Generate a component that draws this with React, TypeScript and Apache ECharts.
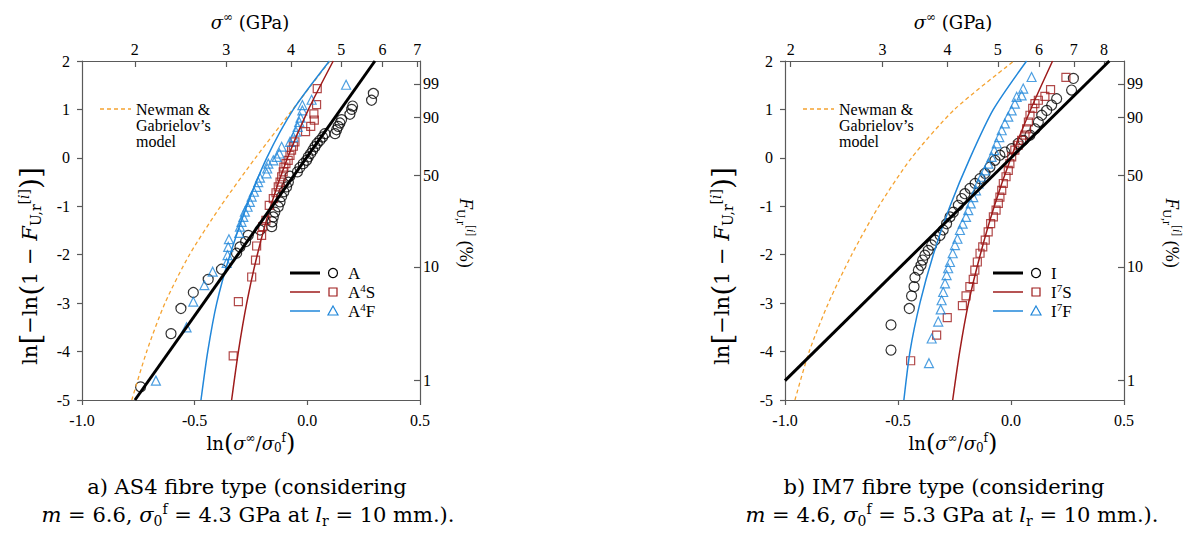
import React, { useEffect, useRef } from 'react';
import * as echarts from 'echarts';

// ---------- data ----------
const xTicks = [-1.0, -0.5, 0.0, 0.5];
const sigma0A = 4.3;
const sigma0I = 5.3;
const topTicksA = [2, 3, 4, 5, 6, 7];
const topTicksI = [2, 3, 4, 5, 6, 7, 8];
const rightTicksF = [1, 10, 50, 90, 99];

// AS4 (left)
const fitA = [[-0.765, -5], [0.30, 2]];
const fitA4S = [[-0.336, -5], [-0.306, -4], [-0.269, -3], [-0.222, -2], [-0.163, -1], [-0.088, 0], [0.005, 1], [0.115, 2]];
const fitA4F = [[-0.472, -5], [-0.442, -4], [-0.402, -3], [-0.343, -2], [-0.269, -1], [-0.180, 0], [-0.062, 1], [0.098, 2]];
const newmanA = [[-0.779, -5], [-0.713, -4], [-0.632, -3], [-0.523, -2], [-0.385, -1], [-0.230, 0], [-0.065, 1], [0.100, 2]];
const ptsA = [[-0.740, -4.73], [-0.605, -3.63], [-0.561, -3.11], [-0.506, -2.78], [-0.440, -2.51], [-0.381, -2.30], [-0.314, -1.97], [-0.299, -1.84], [-0.274, -1.73], [-0.262, -1.60], [-0.210, -1.49], [-0.158, -1.42], [-0.156, -1.32], [-0.151, -1.22], [-0.144, -1.12], [-0.129, -1.01], [-0.121, -0.91], [-0.114, -0.80], [-0.104, -0.70], [-0.092, -0.60], [-0.084, -0.50], [-0.077, -0.38], [-0.044, -0.29], [-0.033, -0.20], [-0.018, -0.12], [-0.003, -0.05], [0.004, 0.02], [0.015, 0.09], [0.024, 0.16], [0.034, 0.23], [0.044, 0.30], [0.056, 0.36], [0.068, 0.43], [0.078, 0.50], [0.123, 0.50], [0.130, 0.58], [0.137, 0.65], [0.145, 0.72], [0.152, 0.79], [0.189, 0.90], [0.197, 1.00], [0.201, 1.07], [0.285, 1.19], [0.293, 1.33]];
const ptsA4S = [[-0.329, -4.09], [-0.306, -2.97], [-0.247, -2.46], [-0.230, -2.11], [-0.225, -1.82], [-0.203, -1.60], [-0.198, -1.42], [-0.184, -1.29], [-0.169, -0.98], [-0.151, -0.84], [-0.139, -0.72], [-0.129, -0.60], [-0.121, -0.50], [-0.114, -0.39], [-0.107, -0.29], [-0.104, -0.19], [-0.095, -0.12], [-0.085, -0.05], [-0.077, 0.05], [-0.070, 0.16], [-0.062, 0.24], [-0.055, 0.33], [-0.008, 0.54], [0.015, 0.65], [0.031, 0.78], [0.029, 0.91], [0.041, 1.10], [0.044, 1.43]];
const ptsA4F = [[-0.672, -4.60], [-0.536, -3.50], [-0.506, -2.97], [-0.457, -2.63], [-0.420, -2.35], [-0.358, -2.17], [-0.354, -2.01], [-0.351, -1.84], [-0.348, -1.68], [-0.302, -1.55], [-0.299, -1.42], [-0.292, -1.32], [-0.284, -1.22], [-0.277, -1.11], [-0.265, -1.01], [-0.255, -0.91], [-0.247, -0.80], [-0.237, -0.70], [-0.225, -0.60], [-0.218, -0.50], [-0.210, -0.41], [-0.181, -0.32], [-0.178, -0.22], [-0.173, -0.12], [-0.151, -0.05], [-0.136, 0.02], [-0.124, 0.09], [-0.114, 0.23], [-0.077, 0.33], [-0.062, 0.43], [-0.050, 0.54], [-0.043, 0.64], [-0.036, 0.74], [-0.030, 0.83], [-0.022, 0.98], [-0.022, 1.09], [0.019, 1.20], [0.172, 1.51]];

// IM7 (right)
const fitI = [[-1.0, -4.6], [0.435, 2]];
const fitI7S = [[-0.258, -5], [-0.227, -4], [-0.188, -3], [-0.136, -2], [-0.074, -1], [0.0, 0], [0.087, 1], [0.184, 2]];
const fitI7F = [[-0.474, -5], [-0.447, -4], [-0.403, -3], [-0.344, -2], [-0.270, -1], [-0.181, 0], [-0.078, 1], [0.069, 2]];
const newmanI = [[-0.956, -5], [-0.893, -4], [-0.808, -3], [-0.705, -2], [-0.585, -1], [-0.440, 0], [-0.250, 1], [0.013, 2]];
const ptsI = [[-0.531, -3.97], [-0.531, -3.45], [-0.450, -3.11], [-0.440, -2.85], [-0.429, -2.66], [-0.425, -2.47], [-0.410, -2.32], [-0.398, -2.22], [-0.391, -2.11], [-0.381, -2.01], [-0.366, -1.91], [-0.351, -1.80], [-0.336, -1.70], [-0.314, -1.60], [-0.300, -1.49], [-0.285, -1.36], [-0.270, -1.22], [-0.255, -1.12], [-0.233, -0.98], [-0.218, -0.84], [-0.204, -0.74], [-0.181, -0.63], [-0.159, -0.53], [-0.137, -0.43], [-0.115, -0.32], [-0.093, -0.19], [-0.071, -0.05], [-0.049, 0.055], [-0.027, 0.12], [0.003, 0.19], [0.032, 0.30], [0.054, 0.36], [0.084, 0.47], [0.106, 0.60], [0.121, 0.74], [0.136, 0.88], [0.158, 0.98], [0.180, 1.09], [0.202, 1.22], [0.268, 1.40], [0.276, 1.64]];
const ptsI7S = [[-0.444, -4.19], [-0.329, -3.66], [-0.282, -3.30], [-0.215, -3.05], [-0.199, -2.85], [-0.182, -2.66], [-0.167, -2.51], [-0.160, -2.32], [-0.149, -2.15], [-0.137, -1.97], [-0.125, -1.84], [-0.114, -1.70], [-0.101, -1.53], [-0.090, -1.36], [-0.078, -1.22], [-0.066, -1.08], [-0.056, -0.94], [-0.049, -0.81], [-0.041, -0.67], [-0.034, -0.53], [-0.022, -0.39], [-0.012, -0.26], [-0.005, -0.12], [0.003, 0.02], [0.017, 0.16], [0.032, 0.26], [0.047, 0.36], [0.062, 0.47], [0.069, 0.60], [0.077, 0.74], [0.084, 0.88], [0.096, 1.02], [0.106, 1.12], [0.121, 1.19], [0.150, 1.27], [0.175, 1.41], [0.243, 1.66]];
const ptsI7F = [[-0.363, -4.24], [-0.351, -3.73], [-0.322, -3.38], [-0.311, -3.13], [-0.307, -2.94], [-0.300, -2.77], [-0.292, -2.59], [-0.285, -2.42], [-0.278, -2.28], [-0.270, -2.15], [-0.258, -1.97], [-0.248, -1.80], [-0.237, -1.67], [-0.226, -1.49], [-0.214, -1.36], [-0.199, -1.22], [-0.189, -1.08], [-0.178, -0.94], [-0.167, -0.81], [-0.155, -0.67], [-0.144, -0.53], [-0.130, -0.39], [-0.115, -0.26], [-0.100, -0.12], [-0.086, 0.02], [-0.074, 0.16], [-0.063, 0.30], [-0.052, 0.43], [-0.041, 0.57], [-0.027, 0.71], [-0.012, 0.85], [0.003, 0.98], [0.017, 1.12], [0.025, 1.26], [0.047, 1.29], [0.054, 1.43], [0.091, 1.67]];

// ---------- styles ----------
const FT = "'Liberation Serif', 'Times New Roman', serif";
const FM = "'DejaVu Serif', serif";
const BLACK = '#000000';
const RED = '#9E1B1B';
const BLUE = '#2187DA';
const ORANGE = '#F5A331';
const AXIS = '#5a5a5a';

const rs = (size: number, fam: string) => {
  const s = Math.round(size * 0.66);
  const off = Math.round(size * 0.55);
  return {
    n: { fontFamily: fam, fontSize: size, verticalAlign: 'middle', fill: '#000' },
    i: { fontFamily: fam, fontSize: size, fontStyle: 'italic', verticalAlign: 'middle', fill: '#000' },
    sp: { fontFamily: fam, fontSize: s, padding: [0, 0, off, 0], verticalAlign: 'middle', fill: '#000' },
    spi: { fontFamily: fam, fontSize: s, fontStyle: 'italic', padding: [0, 0, off, 0], verticalAlign: 'middle', fill: '#000' },
    sb: { fontFamily: fam, fontSize: s, padding: [off, 0, 0, 0], verticalAlign: 'middle', fill: '#000' },
    bg: { fontFamily: fam, fontSize: Math.round(size * 1.35), verticalAlign: 'middle', fill: '#000' },
  };
};

const rtext = (x: number, y: number, text: string, size: number, fam: string, rotation = 0, align = 'center') => ({
  type: 'text', x, y, rotation, silent: true,
  style: { text, rich: rs(size, fam), align, verticalAlign: 'middle', fontFamily: fam, fontSize: size, fill: '#000' },
});

function axesFor(gridIndex: number, sigma0: number, topTicks: number[]) {
  const topVals = topTicks.map((s) => Math.log(s / sigma0));
  const rightVals = rightTicksF.map((f) => Math.log(-Math.log(1 - f / 100)));
  const lab = { color: '#000', fontFamily: FT, fontSize: 16 };
  const line = { show: true, lineStyle: { color: AXIS, width: 1.2 } };
  const tick = { lineStyle: { color: AXIS, width: 1.2 } };
  const x = [
    {
      type: 'value', gridIndex, position: 'bottom', min: -1, max: 0.5, interval: 0.5,
      axisLine: { ...line, onZero: false }, axisTick: { ...tick, show: true, inside: false, length: 5, customValues: xTicks },
      axisLabel: { ...lab, margin: 12, customValues: xTicks, formatter: (v: number) => v.toFixed(1) },
      splitLine: { show: false },
    },
    {
      type: 'value', gridIndex, position: 'top', min: -1, max: 0.5,
      axisLine: { ...line, onZero: false }, axisTick: { ...tick, show: true, inside: true, length: 6, customValues: topVals },
      axisLabel: { ...lab, margin: 4, customValues: topVals, formatter: (v: number) => String(Math.round(sigma0 * Math.exp(v))) },
      splitLine: { show: false },
    },
  ];
  const y = [
    {
      type: 'value', gridIndex, position: 'left', min: -5, max: 2, interval: 1,
      axisLine: { ...line, onZero: false }, axisTick: { ...tick, show: true, inside: false, length: 5 },
      axisLabel: { ...lab, margin: 12, formatter: (v: number) => String(v) },
      splitLine: { show: false },
    },
    {
      type: 'value', gridIndex, position: 'right', min: -5, max: 2,
      axisLine: { ...line, onZero: false }, axisTick: { ...tick, show: true, inside: true, length: 6, customValues: rightVals },
      axisLabel: { ...lab, margin: 3, customValues: rightVals, formatter: (v: number) => String(Math.round(100 * (1 - Math.exp(-Math.exp(v))))) },
      splitLine: { show: false },
    },
  ];
  return { x, y };
}

function seriesFor(ax: number, fit: number[][], fitS: number[][], fitF: number[][], newman: number[][], p: number[][], pS: number[][], pF: number[][]) {
  const base = { xAxisIndex: ax, yAxisIndex: ax, silent: true };
  const ln = (data: number[][], color: string, width: number, extra: any = {}) => ({
    ...base, type: 'line', data, showSymbol: false, symbol: 'none', smooth: 0.25,
    lineStyle: { color, width, ...extra }, z: 3,
  });
  const sc = (data: number[][], symbol: string, size: number, color: string) => ({
    ...base, type: 'scatter', data, symbol, symbolSize: size,
    itemStyle: { color: 'rgba(0,0,0,0)', borderColor: color, borderWidth: 1.2 }, z: 2,
  });
  return [
    sc(p, 'circle', 10, BLACK),
    sc(pS, 'rect', 8, RED),
    sc(pF, 'triangle', 9, BLUE),
    ln(newman, ORANGE, 1.3, { type: [4, 3] }),
    ln(fitS, RED, 1.5),
    ln(fitF, BLUE, 1.5),
    ln(fit, BLACK, 3),
  ];
}

function legendGraphics(x0: number, names: string[]) {
  const ys = [273, 292, 311];
  const colors = [BLACK, RED, BLUE];
  const widths = [3, 1.5, 1.5];
  const out: any[] = [];
  ys.forEach((y, k) => {
    out.push({ type: 'line', silent: true, shape: { x1: x0, y1: y, x2: x0 + 30, y2: y }, style: { stroke: colors[k], lineWidth: widths[k] } });
    const mx = x0 + 43;
    if (k === 0) out.push({ type: 'circle', silent: true, shape: { cx: mx, cy: y, r: 4.5 }, style: { fill: 'none', stroke: BLACK, lineWidth: 1.2 } });
    if (k === 1) out.push({ type: 'rect', silent: true, shape: { x: mx - 4, y: y - 4, width: 8, height: 8 }, style: { fill: 'none', stroke: RED, lineWidth: 1.2 } });
    if (k === 2) out.push({ type: 'polygon', silent: true, shape: { points: [[mx, y - 5], [mx + 5, y + 4], [mx - 5, y + 4]] }, style: { fill: 'none', stroke: BLUE, lineWidth: 1.2 } });
    out.push(rtext(x0 + 58, y, names[k], 17, FT, 0, 'left'));
  });
  return out;
}

function newmanLabel(x0: number) {
  return [
    { type: 'line', silent: true, shape: { x1: x0, y1: 109, x2: x0 + 31, y2: 109 }, style: { stroke: ORANGE, lineWidth: 1.3, lineDash: [4, 3] } },
    rtext(x0 + 36, 109, '{n|Newman &}', 16, FT, 0, 'left'),
    rtext(x0 + 36, 125, '{n|Gabrielov’s}', 16, FT, 0, 'left'),
    rtext(x0 + 36, 141, '{n|model}', 16, FT, 0, 'left'),
  ];
}

export default function App() {
  const ref = useRef<HTMLDivElement>(null);
  useEffect(() => {
    if (!ref.current) return;
    const chart = echarts.init(ref.current, null, { renderer: 'svg' });
    const a = axesFor(0, sigma0A, topTicksA);
    const b = axesFor(1, sigma0I, topTicksI);
    const ytitle = '{n|ln}{bg|[}{n|−ln}{bg|(}{n|1 − }{i|F}{sb|U,r}{sp|[}{spi|i}{sp|]}{bg|)}{bg|]}';
    const rtitle = '{i|F}{sb|U,r}{sp|[}{spi|i}{sp|]}{n| (%)}';
    const ttitle = '{i|σ}{sp|∞}{n| (GPa)}';
    const btitle = '{n|ln}{bg|(}{i|σ}{sp|∞}{n|/}{i|σ}{sb|0}{sp|f}{bg|)}';
    chart.setOption({
      animation: false,
      backgroundColor: '#ffffff',
      grid: [
        { left: 82, top: 61, width: 338, height: 339, containLabel: false },
        { left: 785, top: 61, width: 339, height: 339, containLabel: false },
      ],
      xAxis: [a.x[0], a.x[1], b.x[0], b.x[1]],
      yAxis: [a.y[0], a.y[1], b.y[0], b.y[1]],
      series: [
        ...seriesFor(0, fitA, fitA4S, fitA4F, newmanA, ptsA, ptsA4S, ptsA4F),
        ...seriesFor(2, fitI, fitI7S, fitI7F, newmanI, ptsI, ptsI7S, ptsI7F),
      ],
      graphic: [
        rtext(250, 22, ttitle, 18, FM),
        rtext(953, 22, ttitle, 18, FM),
        rtext(251, 443, btitle, 18, FM),
        rtext(953, 443, btitle, 18, FM),
        rtext(30, 266, ytitle, 21, FM, Math.PI / 2),
        rtext(722, 266, ytitle, 21, FM, Math.PI / 2),
        rtext(466, 233, rtitle, 18, FT, -Math.PI / 2),
        rtext(1172, 233, rtitle, 18, FT, -Math.PI / 2),
        rtext(247, 487, '{n|a) AS4 fibre type (considering}', 21, FM),
        rtext(248, 515, '{i|m}{n| = 6.6, }{i|σ}{sb|0}{sp|f}{n| = 4.3 GPa at }{i|l}{sb|r}{n| = 10 mm.).}', 21, FM),
        rtext(944, 487, '{n|b) IM7 fibre type (considering}', 21, FM),
        rtext(952, 515, '{i|m}{n| = 4.6, }{i|σ}{sb|0}{sp|f}{n| = 5.3 GPa at }{i|l}{sb|r}{n| = 10 mm.).}', 21, FM),
        ...newmanLabel(100),
        ...newmanLabel(803),
        ...legendGraphics(290, ['{n|A}', '{n|A}{sp|4}{n|S}', '{n|A}{sp|4}{n|F}']),
        ...legendGraphics(993, ['{n|I}', '{n|I}{sp|7}{n|S}', '{n|I}{sp|7}{n|F}']),
      ],
    });
    return () => chart.dispose();
  }, []);
  return <div ref={ref} style={{ position: 'absolute', left: 0, top: 0, width: 1193, height: 536 }} />;
}
